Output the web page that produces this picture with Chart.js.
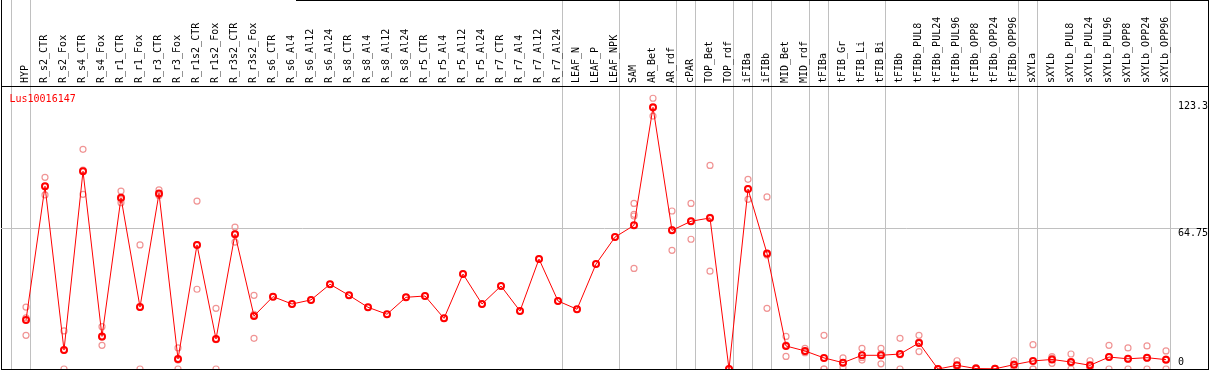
<!DOCTYPE html>
<html>
<head>
<meta charset="utf-8">
<script src="https://cdn.jsdelivr.net/npm/chart.js@4.4.1/dist/chart.umd.min.js"></script>
<style>
  html, body { margin: 0; padding: 0; background: #fff; }
  #wrap { position: relative; width: 1209px; height: 370px; }
  #topRule { position: absolute; left: 296px; top: 0; width: 913px; height: 1px; background: #000; }
</style>
</head>
<body>
<div id="wrap">
  <canvas id="chart" width="1209" height="370"></canvas>
  <div id="topRule"></div>
</div>
<script>
const categories = [
  'HYP', 'R_s2_CTR', 'R_s2_Fox', 'R_s4_CTR', 'R_s4_Fox', 'R_r1_CTR', 'R_r1_Fox', 'R_r3_CTR', 'R_r3_Fox',
  'R_r1s2_CTR', 'R_r1s2_Fox', 'R_r3s2_CTR', 'R_r3s2_Fox', 'R_s6_CTR', 'R_s6_Al4', 'R_s6_Al12', 'R_s6_Al24',
  'R_s8_CTR', 'R_s8_Al4', 'R_s8_Al12', 'R_s8_Al24', 'R_r5_CTR', 'R_r5_Al4', 'R_r5_Al12', 'R_r5_Al24',
  'R_r7_CTR', 'R_r7_Al4', 'R_r7_Al12', 'R_r7_Al24', 'LEAF_N', 'LEAF_P', 'LEAF_NPK', 'SAM', 'AR_Bet', 'AR_rdf',
  'cPAR', 'TOP_Bet', 'TOP_rdf', 'iFIBa', 'iFIBb', 'MID_Bet', 'MID_rdf', 'tFIBa', 'tFIB_Gr', 'tFIB_Li', 'tFIB_Bi',
  'tFIBb', 'tFIBb_PUL8', 'tFIBb_PUL24', 'tFIBb_PUL96', 'tFIBb_OPP8', 'tFIBb_OPP24', 'tFIBb_OPP96',
  'sXYLa', 'sXYLb', 'sXYLb_PUL8', 'sXYLb_PUL24', 'sXYLb_PUL96', 'sXYLb_OPP8', 'sXYLb_OPP24', 'sXYLb_OPP96'
];

// mean expression per sample (red line)
const meanValues = [
  22.5, 84.1, 8.7, 91.0, 15.0, 78.8, 28.5, 80.8, 4.6, 57.1, 13.8, 62.0, 24.4,
  33.3, 29.9, 31.8, 39.0, 33.9, 28.4, 25.2, 33.0, 33.6, 23.3, 43.7, 29.9, 38.2, 26.7, 50.6, 31.3,
  27.5, 48.3, 60.7, 66.1, 120.4, 63.8, 68.0, 69.5, 0, 82.8, 53.2, 10.6, 8.3, 5.1, 2.9, 6.3, 6.3,
  6.9, 12.0, 0, 1.7, 0.2, 0.1, 2.0, 3.7, 4.4, 3.2, 1.7, 5.5, 4.7, 5.2, 4.3
];

// replicates (pale circles)
const repA = [
  28.5, 88.2, 17.5, 101.1, 19.5, 81.9, 57.1, 82.4, 9.7, 77.3, 27.9, 65.3, 33.9,
  33.3, 29.9, 31.8, 39.0, 33.9, 28.4, 25.2, 33.0, 33.6, 23.3, 43.7, 29.9, 38.2, 26.7, 50.6, 31.3,
  27.5, 48.3, 60.7, 76.2, 124.6, 72.7, 76.2, 93.7, 0, 87.3, 79.2, 15.0, 9.5, 15.5, 5.1, 9.5, 9.5,
  14.1, 15.5, 0, 3.8, 0.6, 0.3, 3.8, 11.2, 5.7, 6.9, 3.8, 10.9, 9.7, 10.6, 8.3
];
const repB = [
  23.5, 84.0, 8.6, 91.5, 14.6, 78.0, 28.4, 80.1, 4.1, 57.3, 13.5, 62.3, 25.2,
  null, null, null, null, null, null, null, null, null, null, null, null, null, null, null, null,
  null, null, null, 71.2, 120.2, 64.1, 68.1, 69.8, 0, 83.0, 52.5, 11.0, 8.0, 0, 2.8, 5.3, 7.0,
  6.6, 12.5, 0, 1.3, 0, 0, 2.2, 0, 5.0, 2.8, 1.3, 5.6, 4.4, 5.0, 4.6
];
const repC = [
  15.5, 80.1, 0, 80.4, 10.9, 76.5, 0, 79.9, 0, 36.7, 0, 58.4, 14.1,
  null, null, null, null, null, null, null, null, null, null, null, null, null, null, null, null,
  null, null, null, 70.4, 116.4, 54.6, 59.7, 45.0, 0, 78.1, 27.9, 5.8, 7.5, 0, 0.8, 4.1, 2.4,
  0, 8.0, 0, 0, 0, 0, 0, 0, 2.6, 0, 0, 0, 0, 0, 0
];
const repD = categories.map((c) => (c === 'SAM' ? 46.3 : null));

// separators are drawn just after these sample indices
const groupEnds = [-1, 0, 28, 31, 34, 35, 37, 38, 39, 41, 42, 45, 52, 53, 60];
const yTickValues = [0, 64.75, 123.3];
const yGridValues = [64.75];
const geneId = 'Lus10016147';

const FONT = '"DejaVu Sans Mono", "Liberation Mono", monospace';
const X_MIN = -25 / 19;
const X_MAX = 60 + 42 / 19;
const Y_MAX = 283 / 2.173;
const SEP_SHIFT = 0.23;

const toPoints = (values) => values.map((v, i) => ({x: i, y: v}));

const noPadding = (scale) => {
  scale.paddingTop = 0;
  scale.paddingBottom = 0;
  scale.paddingLeft = 0;
  scale.paddingRight = 0;
};

const repDataset = (values) => ({
  data: toPoints(values),
  xAxisID: 'x',
  yAxisID: 'y',
  showLine: false,
  pointRadius: 3,
  pointHoverRadius: 3,
  pointBorderWidth: 1.2,
  pointBorderColor: '#f09595',
  pointBackgroundColor: 'rgba(0,0,0,0)'
});

// gene name in the corner and the value labels on the right edge
const plotText = {
  id: 'plotText',
  afterDraw(chart) {
    const {ctx, chartArea} = chart;
    const yScale = chart.scales.y;
    ctx.save();
    ctx.font = `10px ${FONT}`;
    ctx.fillStyle = '#ff0000';
    ctx.textAlign = 'left';
    ctx.textBaseline = 'alphabetic';
    ctx.fillText(geneId, chartArea.left + 8.5, chartArea.top + 16);

    ctx.fillStyle = '#000';
    ctx.textBaseline = 'middle';
    yTickValues.forEach((v) => {
      const py = Math.min(yScale.getPixelForValue(v) + 5, chartArea.bottom - 7);
      ctx.fillText(String(v), chartArea.right - 30, py);
    });
    ctx.restore();
  }
};

new Chart(document.getElementById('chart'), {
  type: 'line',
  data: {
    datasets: [
      {
        data: toPoints(meanValues),
        xAxisID: 'x',
        yAxisID: 'y',
        borderColor: '#ff0000',
        borderWidth: 1,
        tension: 0,
        pointRadius: 3,
        pointHoverRadius: 3,
        pointBorderWidth: 2,
        pointBorderColor: '#ff0000',
        pointBackgroundColor: 'rgba(0,0,0,0)'
      },
      repDataset(repA),
      repDataset(repB),
      repDataset(repC),
      repDataset(repD)
    ]
  },
  options: {
    responsive: false,
    animation: false,
    devicePixelRatio: 1,
    layout: {autoPadding: false, padding: {left: 1, right: 1, top: 0, bottom: 1}},
    plugins: {
      legend: {display: false},
      tooltip: {enabled: false}
    },
    scales: {
      x: {
        type: 'linear',
        position: 'top',
        weight: 1,
        min: X_MIN,
        max: X_MAX,
        afterBuildTicks: (scale) => {
          scale.ticks = categories.map((_, i) => ({value: i}));
        },
        afterFit: (scale) => {
          scale.height = 86;
          noPadding(scale);
        },
        grid: {display: false, drawTicks: false},
        border: {display: true, color: '#000', width: 1},
        ticks: {
          autoSkip: false,
          minRotation: 90,
          maxRotation: 90,
          padding: 3,
          labelOffset: 11.5,
          color: '#000',
          font: {family: FONT, size: 10},
          callback: (value) => categories[value]
        }
      },
      xSep: {
        type: 'linear',
        position: 'top',
        weight: 0,
        min: X_MIN,
        max: X_MAX,
        afterBuildTicks: (scale) => {
          scale.ticks = [X_MIN, ...groupEnds.map((g) => g + SEP_SHIFT), X_MAX].map((v) => ({value: v}));
        },
        afterFit: (scale) => {
          scale.height = 0;
          noPadding(scale);
        },
        ticks: {display: false},
        border: {display: false},
        grid: {
          color: (ctx) => (ctx.tick && (ctx.tick.value === X_MIN || ctx.tick.value === X_MAX) ? '#000' : '#c0c0c0'),
          lineWidth: 1,
          drawTicks: true,
          tickLength: 86
        }
      },
      xBottom: {
        type: 'linear',
        position: 'bottom',
        min: X_MIN,
        max: X_MAX,
        afterFit: (scale) => {
          scale.height = 0;
          noPadding(scale);
        },
        ticks: {display: false},
        grid: {display: false, drawTicks: false},
        border: {display: true, color: '#000', width: 1}
      },
      y: {
        type: 'linear',
        position: 'right',
        min: 0,
        max: Y_MAX,
        afterBuildTicks: (scale) => {
          scale.ticks = yGridValues.map((v) => ({value: v}));
        },
        afterFit: (scale) => {
          scale.width = 0;
          noPadding(scale);
        },
        border: {display: false},
        grid: {color: '#c0c0c0', lineWidth: 1, drawTicks: false},
        ticks: {display: false}
      }
    }
  },
  plugins: [plotText]
});
</script>
</body>
</html>
